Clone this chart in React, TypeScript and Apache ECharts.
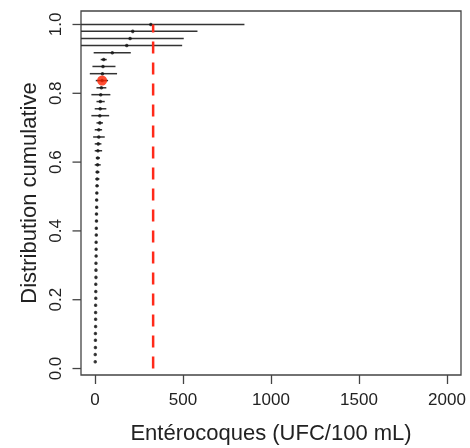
import React, { useEffect, useRef } from "react";
import * as echarts from "echarts";

// Cumulative probability (rank / 49) for each sorted observation
const cumProb = [
  0.020, 0.041, 0.061, 0.082, 0.102, 0.122, 0.143, 0.163, 0.184, 0.204,
  0.224, 0.245, 0.265, 0.286, 0.306, 0.327, 0.347, 0.367, 0.388, 0.408,
  0.429, 0.449, 0.469, 0.490, 0.510, 0.531, 0.551, 0.571, 0.592, 0.612,
  0.633, 0.653, 0.673, 0.694, 0.714, 0.735, 0.755, 0.776, 0.796, 0.816,
  0.837, 0.857, 0.878, 0.898, 0.918, 0.939, 0.959, 0.980, 1.000,
];

// Entérocoques (UFC/100 mL), sorted
const entero = [
  1, 1, 2, 2, 2, 3, 3, 3, 3, 4,
  4, 4, 5, 5, 5, 6, 6, 6, 7, 7,
  8, 8, 9, 9, 10, 11, 12, 13, 14, 15,
  16, 18, 21, 21, 27, 27, 29, 30, 32, 36,
  40, 42, 45, 49, 98, 180, 199, 214, 317,
];

// Interval lower / upper bounds
const ciLow = [
  0, 0, 0, 0, 0, 1, 1, 1, 1, 1,
  1, 1, 2, 2, 2, 2, 2, 2, 3, 3,
  3, 3, 4, 3, 4, 4, 2, 3, -2, 4,
  -2, -2, -11, -2, 8, -21, -2, 8, -21, 8,
  4, -30, -15, 32, -8, -250, -250, -250, -300,
];
const ciHigh = [
  3, 3, 4, 4, 4, 5, 5, 5, 5, 7,
  7, 7, 8, 8, 8, 10, 10, 10, 11, 11,
  13, 13, 14, 15, 16, 20, 25, 25, 32, 28,
  40, 36, 55, 40, 45, 80, 64, 55, 87, 64,
  74, 125, 116, 66, 203, 495, 504, 582, 849,
];

const xTicks = [0, 500, 1000, 1500, 2000];
const yTicks = [0, 0.2, 0.4, 0.6, 0.8, 1.0];
const highlightIndex = 40;
const threshold = 330;

export default function App() {
  const ref = useRef<HTMLDivElement>(null);
  useEffect(() => {
    const chart = echarts.init(ref.current!, null, { renderer: "svg" });
    const font = "'Liberation Sans', Arial, Helvetica, sans-serif";
    const axisColor = "#444";
    chart.setOption({
      animation: false,
      grid: {
        left: 81,
        top: 11,
        width: 380,
        height: 364,
        show: true,
        borderColor: axisColor,
        borderWidth: 1.3,
      },
      xAxis: {
        type: "value",
        min: -80,
        max: 2080,
        name: "Entérocoques (UFC/100 mL)",
        nameLocation: "middle",
        nameGap: 46,
        nameTextStyle: { fontFamily: font, fontSize: 22, color: "#222" },
        axisLine: { show: false, onZero: false },
        axisTick: {
          show: true,
          inside: false,
          length: 9,
          customValues: xTicks,
          lineStyle: { color: axisColor, width: 1.3 },
        },
        axisLabel: {
          customValues: xTicks,
          margin: 16,
          fontFamily: font,
          fontSize: 17,
          color: "#222",
          formatter: (v: number) => String(v),
        },
        splitLine: { show: false },
      },
      yAxis: {
        type: "value",
        min: -0.0188,
        max: 1.0392,
        name: "Distribution cumulative",
        nameLocation: "middle",
        nameGap: 35,
        nameRotate: 90,
        nameTextStyle: { fontFamily: font, fontSize: 22, color: "#222" },
        axisLine: { show: false, onZero: false },
        axisTick: { show: false },
        axisLabel: {
          customValues: yTicks,
          rotate: 90,
          margin: 17,
          fontFamily: font,
          fontSize: 17,
          color: "#222",
          formatter: (v: number) => v.toFixed(1),
        },
        splitLine: { show: false },
      },
      series: [
        {
          // y-axis tick marks, drawn outward from the plot frame
          type: "custom",
          z: 5,
          silent: true,
          clip: false,
          encode: { x: 0, y: 1 },
          data: yTicks.map((v) => [0, v]),
          renderItem: (params: any, api: any) => {
            const p = api.coord([api.value(0), api.value(1)]);
            const cs = params.coordSys;
            return {
              type: "line",
              shape: { x1: cs.x - 8.5, y1: p[1], x2: cs.x, y2: p[1] },
              style: { stroke: axisColor, lineWidth: 1.3 },
            };
          },
        },
        {
          type: "custom",
          z: 1,
          silent: true,
          encode: { x: [0, 2], y: 1 },
          data: cumProb.map((p, i) => [ciLow[i], p, ciHigh[i]]),
          renderItem: (params: any, api: any) => {
            const y = api.value(1);
            const p1 = api.coord([api.value(0), y]);
            const p2 = api.coord([api.value(2), y]);
            const cs = params.coordSys;
            const x1 = Math.max(p1[0], cs.x);
            const x2 = Math.min(p2[0], cs.x + cs.width);
            return {
              type: "line",
              shape: { x1, y1: p1[1], x2, y2: p2[1] },
              style: { stroke: "#333", lineWidth: 1.5 },
            };
          },
        },
        {
          type: "scatter",
          z: 2,
          silent: true,
          data: entero.map((x, i) => [x, cumProb[i]]),
          symbolSize: 3.5,
          itemStyle: { color: "#111" },
        },
        {
          type: "scatter",
          z: 3,
          silent: true,
          data: [[entero[highlightIndex], cumProb[highlightIndex]]],
          symbolSize: 10,
          itemStyle: { color: "#ff2200" },
        },
        {
          type: "line",
          z: 4,
          silent: true,
          data: [
            [threshold, 0],
            [threshold, 1],
          ],
          showSymbol: false,
          symbol: "none",
          lineStyle: { color: "#ff2a1a", width: 2.5, type: [12, 9] },
        },
      ],
    });
    return () => chart.dispose();
  }, []);
  return (
    <div
      ref={ref}
      style={{ position: "fixed", left: 0, top: 0, width: 470, height: 448 }}
    />
  );
}
